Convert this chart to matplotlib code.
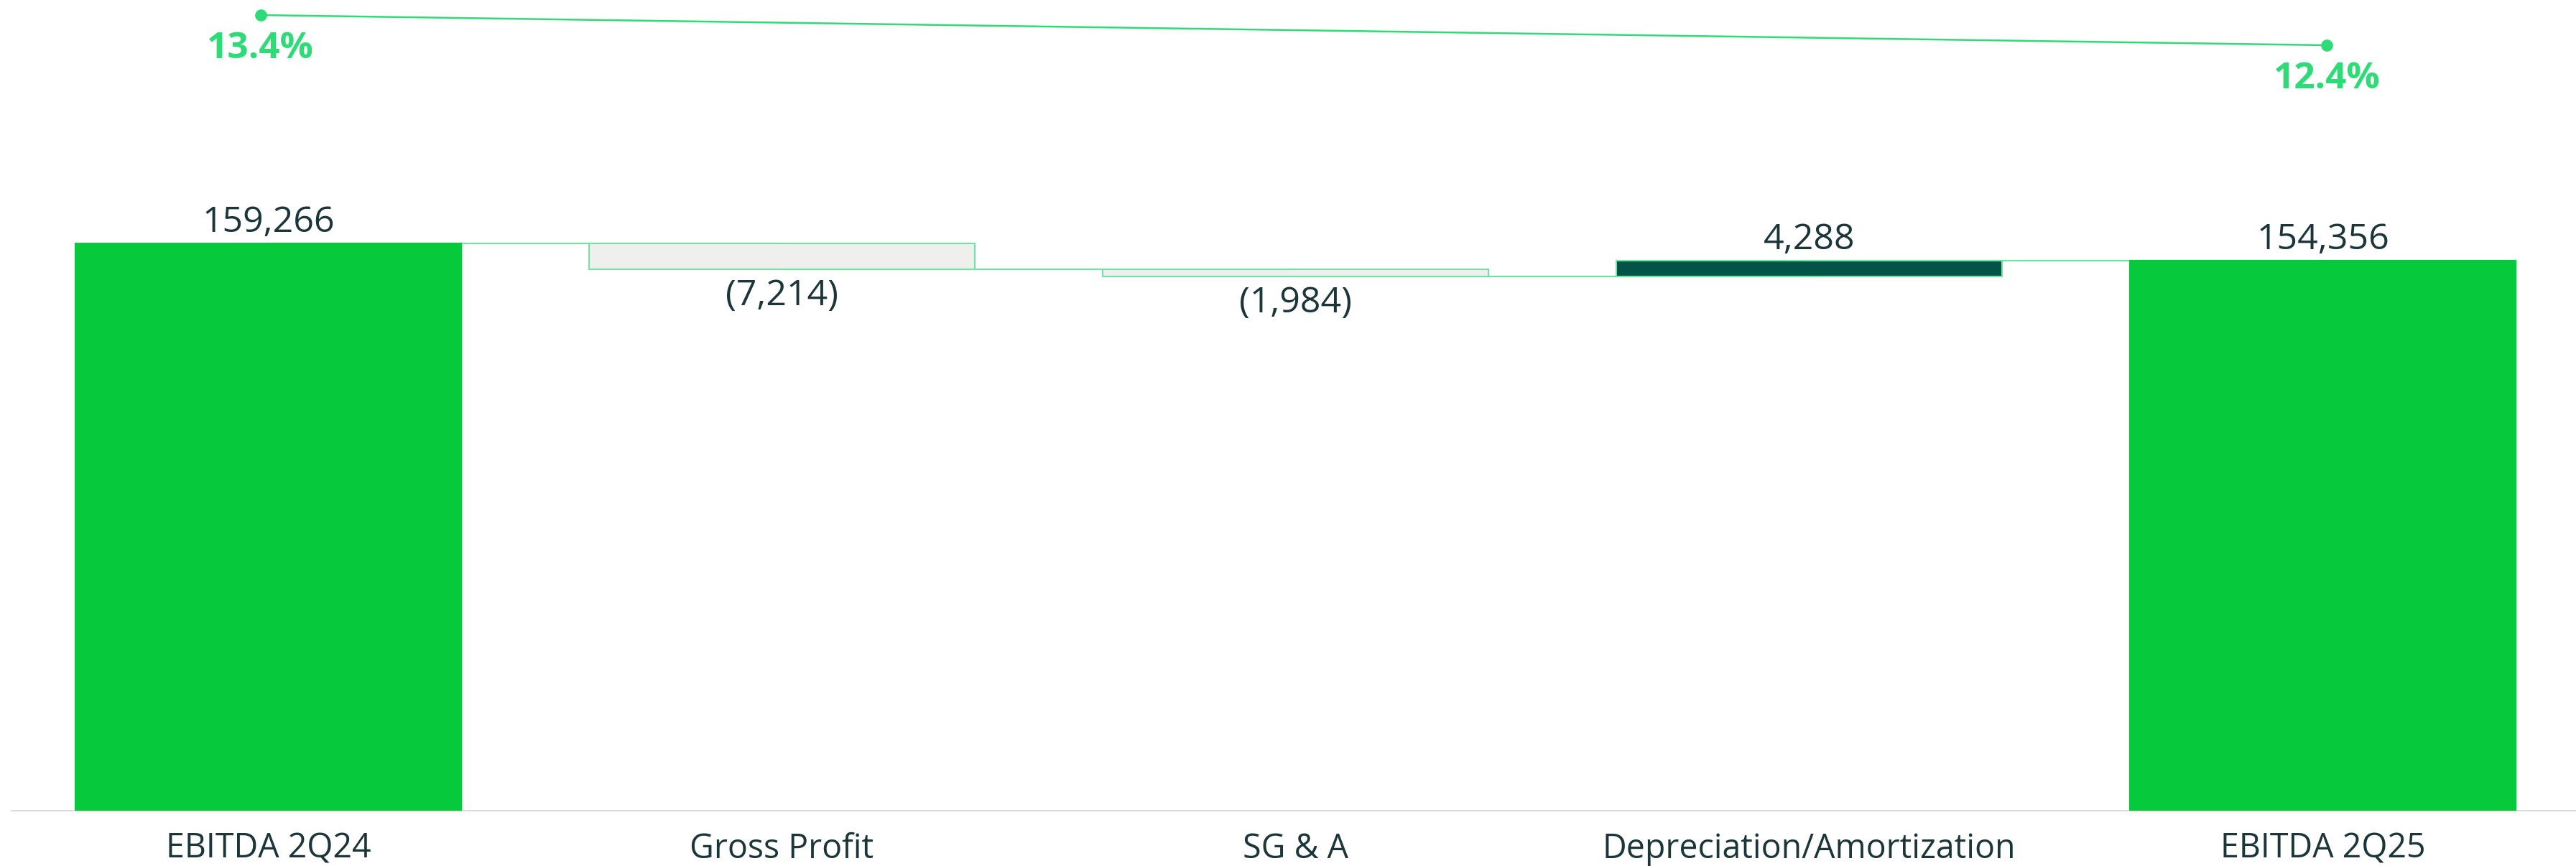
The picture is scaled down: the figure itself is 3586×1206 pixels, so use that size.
import numpy as np
import matplotlib.pyplot as plt

# EBITDA bridge 2Q24 -> 2Q25
categories = ["EBITDA 2Q24", "Gross Profit", "SG & A", "Depreciation/Amortization", "EBITDA 2Q25"]
ebitda_start = 159266
changes = [-7214, -1984, 4288]
ebitda_end = 154356
margins = [13.4, 12.4]   # EBITDA margin, %

GREEN = "#06C93C"
DARK = "#035446"
GREY = "#EFEFED"
EDGE = "#72E3A2"
LINE = "#2EDB77"
TEXT = "#1B3538"

plt.rcParams['font.family'] = ['Open Sans', 'DejaVu Sans']

# bar bottoms / heights
levels = np.concatenate([[ebitda_start], ebitda_start + np.cumsum(changes)])
bottoms = [0]
heights = [ebitda_start]
colors = [GREEN]
for i, c in enumerate(changes):
    bottoms.append(min(levels[i], levels[i + 1]))
    heights.append(abs(c))
    colors.append(GREY if c < 0 else DARK)
bottoms.append(0)
heights.append(ebitda_end)
colors.append(GREEN)
tops = [b + h for b, h in zip(bottoms, heights)]

x = np.arange(len(categories))

fig = plt.figure(figsize=(35.87, 12.06), dpi=100)
ax = fig.add_axes([16 / 3587, 77 / 1206, 3575 / 3587, 1129 / 1206])

ax.bar(x, heights, bottom=bottoms, width=0.752, color=colors,
       edgecolor=[GREEN, EDGE, EDGE, EDGE, GREEN], linewidth=1.5, zorder=3)

# connectors between bars
run = [ebitda_start] + list(levels[1:])
for i in range(len(categories) - 1):
    ax.plot([x[i], x[i + 1]], [run[i], run[i]], color=EDGE, lw=1.6, zorder=2)

# value labels
vals = [ebitda_start] + changes + [ebitda_end]
for i, v in enumerate(vals):
    if v < 0:
        ax.annotate("({:,})".format(-v), (x[i], bottoms[i]), xytext=(0, -9),
                    textcoords="offset points", ha="center", va="top",
                    fontsize=36, color=TEXT)
    else:
        ax.annotate("{:,}".format(v), (x[i], tops[i]), xytext=(0, 3),
                    textcoords="offset points", ha="center", va="bottom",
                    fontsize=36, color=TEXT)

ax.set_xlim(-0.5, 4.5)
ax.set_ylim(0, 227600)
ax.set_yticks([])
ax.set_xticks(x)
ax.set_xticklabels(categories, fontsize=33.5, color=TEXT)
ax.tick_params(axis="x", length=0, pad=21)
for s in ["top", "left", "right"]:
    ax.spines[s].set_visible(False)
ax.spines["bottom"].set_color("#DCDCDC")
ax.spines["bottom"].set_linewidth(1.5)

# margin line on its own scale
ax2 = ax.twinx()
mx = [x[0] - 0.015, x[-1] + 0.008]
ax2.plot(mx, margins, color=LINE, lw=1.8, marker="o", markersize=11, zorder=4)
for xi, m in zip(mx, margins):
    ax2.annotate("{:.1f}%".format(m), (xi, m), xytext=(0, -34),
                 textcoords="offset points", ha="center", va="center",
                 fontsize=37, fontweight="bold", color=LINE)
ax2.set_ylim(-12.98, 13.9)
ax2.set_yticks([])
for s in ax2.spines.values():
    s.set_visible(False)

fig.savefig("out.png", dpi=100)
